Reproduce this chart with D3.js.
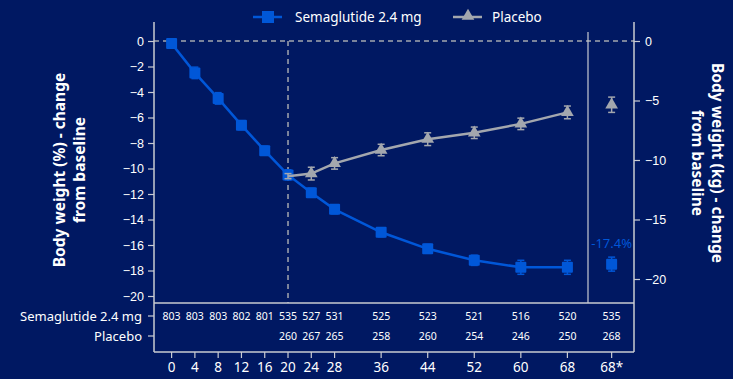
<!DOCTYPE html>
<html><head><meta charset="utf-8">
<script src="https://cdn.jsdelivr.net/npm/d3@7"></script>
<style>body{margin:0;background:#001862;}svg{display:block;font-family:"Noto Sans","Open Sans",sans-serif;}</style>
</head><body>
<svg id="c" width="733" height="379"></svg>
<script>
// ---- data ----
const weeks = [0,4,8,12,16,20,24,28,36,44,52,60,68];
const semaPct = [-0.2,-2.5,-4.5,-6.6,-8.6,-10.5,-11.9,-13.2,-15.0,-16.3,-17.2,-17.75,-17.75];
const semaErr = [0.15,0.45,0.45,0.35,0.35,0.4,0.35,0.35,0.35,0.35,0.4,0.55,0.55];
const placeboWeeks = [20,24,28,36,44,52,60,68];
const placeboPct = [-10.6,-10.4,-9.6,-8.55,-7.7,-7.2,-6.5,-5.6];
const placeboErr = [0.2,0.5,0.45,0.45,0.5,0.45,0.45,0.5];
const endLabel = "68*";
const semaEnd = -17.5, semaEndErr = 0.55, semaEndText = "-17.4%";
const placeboEnd = -5.0, placeboEndErr = 0.6;
const xTickLabels = ["0","4","8","12","16","20","24","28","36","44","52","60","68","68*"];
const nSema = [803,803,803,802,801,535,527,531,525,523,521,516,520,535];
const nPlaceboWeeks = [20,24,28,36,44,52,60,68];
const nPlacebo = [260,267,265,258,260,254,246,250,268];
const pctTicks = [0,-2,-4,-6,-8,-10,-12,-14,-16,-18,-20];
const kgTicks = [0,-5,-10,-15,-20];
const seriesNames = ["Semaglutide 2.4 mg","Placebo"];
const rowLabels = ["Semaglutide 2.4 mg","Placebo"];

// ---- style ----
const BG="#001862", BLUE="#0057D8", GRAY="#A3A7AE", WHITE="#FFFFFF", AX="#C8CBD2";
const svg = d3.select("#c");
svg.append("rect").attr("width",733).attr("height",379).attr("fill",BG);

const xEndPos = 75.6; // nominal slot of "68*"
const x = d3.scaleLinear().domain([0,68]).range([171.6,567.4]);
const y = d3.scaleLinear().domain([0,-20]).range([41,296]);
const yKg = d3.scaleLinear().domain([0,-20]).range([41,279]);
const L=154, R=634, TOP=22, PB=303, TB=352;

// reference dashed lines
svg.append("line").attr("x1",L).attr("x2",R).attr("y1",y(0)).attr("y2",y(0))
  .attr("stroke",GRAY).attr("stroke-width",1.5).attr("stroke-dasharray","5,4");
svg.append("line").attr("x1",x(20)).attr("x2",x(20)).attr("y1",y(0)).attr("y2",PB)
  .attr("stroke",GRAY).attr("stroke-width",1.5).attr("stroke-dasharray","5,4");
// separator
svg.append("line").attr("x1",588).attr("x2",588).attr("y1",32).attr("y2",PB)
  .attr("stroke",AX).attr("stroke-width",1.2);

// left axis
const gL = svg.append("g").attr("transform",`translate(${L},0)`)
  .call(d3.axisLeft(y).tickValues(pctTicks).tickSize(6).tickPadding(4));
gL.select(".domain").remove();
gL.selectAll("line").attr("stroke",AX).attr("stroke-width",1.2);
gL.selectAll("text").attr("fill",WHITE).style("font-size","12.5px");
svg.append("line").attr("x1",L).attr("x2",L).attr("y1",TOP).attr("y2",TB).attr("stroke",AX).attr("stroke-width",1.5);

// right axis
const gR = svg.append("g").attr("transform",`translate(${R},0)`)
  .call(d3.axisRight(yKg).tickValues(kgTicks).tickSize(6).tickPadding(5));
gR.select(".domain").remove();
gR.selectAll("line").attr("stroke",AX).attr("stroke-width",1.2);
gR.selectAll("text").attr("fill",WHITE).style("font-size","12.5px");
svg.append("line").attr("x1",R).attr("x2",R).attr("y1",TOP).attr("y2",TB).attr("stroke",AX).attr("stroke-width",1.5);

// table frame
svg.append("line").attr("x1",L).attr("x2",R).attr("y1",PB).attr("y2",PB).attr("stroke",AX).attr("stroke-width",1.5);
svg.append("line").attr("x1",L).attr("x2",R).attr("y1",TB).attr("y2",TB).attr("stroke",AX).attr("stroke-width",1.5);

// x axis
const xPos = xTickLabels.map((d,i)=> i<weeks.length ? x(weeks[i]) : x(xEndPos));
const gX = svg.append("g").attr("transform",`translate(0,${TB})`);
xTickLabels.forEach((t,i)=>{
  gX.append("line").attr("x1",xPos[i]).attr("x2",xPos[i]).attr("y1",0).attr("y2",6).attr("stroke",AX).attr("stroke-width",1.2);
  gX.append("text").attr("x",xPos[i]).attr("y",20).attr("text-anchor","middle").attr("fill",WHITE).style("font-size","13.5px").text(t);
});

// table rows
const rowY = [316,336];
rowLabels.forEach((t,i)=>{
  svg.append("line").attr("x1",L-6).attr("x2",L).attr("y1",rowY[i]).attr("y2",rowY[i]).attr("stroke",AX).attr("stroke-width",1.2);
  svg.append("text").attr("x",L-12).attr("y",rowY[i]).attr("dy","0.35em").attr("text-anchor","end")
    .attr("fill",WHITE).style("font-size","13px").text(t);
});
nSema.forEach((n,i)=>{
  svg.append("text").attr("x",xPos[i]).attr("y",rowY[0]).attr("dy","0.35em").attr("text-anchor","middle")
    .attr("fill",WHITE).style("font-size","10.5px").text(n);
});
nPlacebo.forEach((n,i)=>{
  const px = i<nPlaceboWeeks.length ? x(nPlaceboWeeks[i]) : x(xEndPos);
  svg.append("text").attr("x",px).attr("y",rowY[1]).attr("dy","0.35em").attr("text-anchor","middle")
    .attr("fill",WHITE).style("font-size","10.5px").text(n);
});

// series helpers
function errBars(g, xs, ys, es, color){
  xs.forEach((xv,i)=>{
    const cx=xv, y1=y(ys[i]+es[i]), y2=y(ys[i]-es[i]);
    g.append("line").attr("x1",cx).attr("x2",cx).attr("y1",y1).attr("y2",y2).attr("stroke",color).attr("stroke-width",1.5);
    [y1,y2].forEach(yy=>g.append("line").attr("x1",cx-3.5).attr("x2",cx+3.5).attr("y1",yy).attr("y2",yy).attr("stroke",color).attr("stroke-width",1.5));
  });
}
const line = d3.line().x(d=>x(d[0])).y(d=>y(d[1]));

// placebo
const gP = svg.append("g");
gP.append("path").datum(placeboWeeks.map((w,i)=>[w,placeboPct[i]])).attr("d",line)
  .attr("fill","none").attr("stroke",GRAY).attr("stroke-width",2.5);
const pXs = placeboWeeks.map(w=>x(w)).concat([x(xEndPos)]);
const pYs = placeboPct.concat([placeboEnd]);
errBars(gP, pXs, pYs, placeboErr.concat([placeboEndErr]), GRAY);
const tri = d3.symbol().type(d3.symbolTriangle).size(70);
pXs.forEach((px,i)=>{ if(i===0) return;
  gP.append("path").attr("d",tri).attr("transform",`translate(${px},${y(pYs[i])})`).attr("fill",GRAY);
});

// semaglutide
const gS = svg.append("g");
gS.append("path").datum(weeks.map((w,i)=>[w,semaPct[i]])).attr("d",line)
  .attr("fill","none").attr("stroke",BLUE).attr("stroke-width",2.5);
const sXs = weeks.map(w=>x(w)).concat([x(xEndPos)]);
const sYs = semaPct.concat([semaEnd]);
errBars(gS, sXs, sYs, semaErr.concat([semaEndErr]), BLUE);
sXs.forEach((sx,i)=>{
  gS.append("rect").attr("x",sx-5.5).attr("y",y(sYs[i])-5.5).attr("width",11).attr("height",11).attr("rx",1).attr("fill",BLUE);
});
gP.raise();
gS.select("rect").raise();
svg.append("text").attr("x",x(xEndPos)).attr("y",243).attr("dy","0.35em").attr("text-anchor","middle")
  .attr("fill",BLUE).style("font-size","13px").text(semaEndText);

// axis titles
function title(cx, cy, rot, lines){
  const t = svg.append("text").attr("transform",`translate(${cx},${cy}) rotate(${rot})`)
    .attr("text-anchor","middle").attr("fill",WHITE).style("font-size","15.5px").style("font-weight","bold");
  lines.forEach((l,i)=>t.append("tspan").attr("x",0).attr("dy",i===0?0:"1.3em").text(l));
}
title(65,170,-90,["Body weight (%) - change","from baseline"]);
title(712,163,90,["Body weight (kg) - change","from baseline"]);

// legend
const lg = svg.append("g");
lg.append("line").attr("x1",253).attr("x2",282).attr("y1",17).attr("y2",17).attr("stroke",BLUE).attr("stroke-width",2.5);
lg.append("rect").attr("x",262).attr("y",11).attr("width",12).attr("height",12).attr("fill",BLUE);
lg.append("text").attr("x",295).attr("y",17).attr("dy","0.35em").attr("fill",WHITE).style("font-size","13.5px").text(seriesNames[0]);
lg.append("line").attr("x1",453).attr("x2",482).attr("y1",17).attr("y2",17).attr("stroke",GRAY).attr("stroke-width",2.5);
lg.append("path").attr("d",tri).attr("transform","translate(468,16)").attr("fill",GRAY);
lg.append("text").attr("x",492).attr("y",17).attr("dy","0.35em").attr("fill",WHITE).style("font-size","13.5px").text(seriesNames[1]);
</script>
</body></html>
